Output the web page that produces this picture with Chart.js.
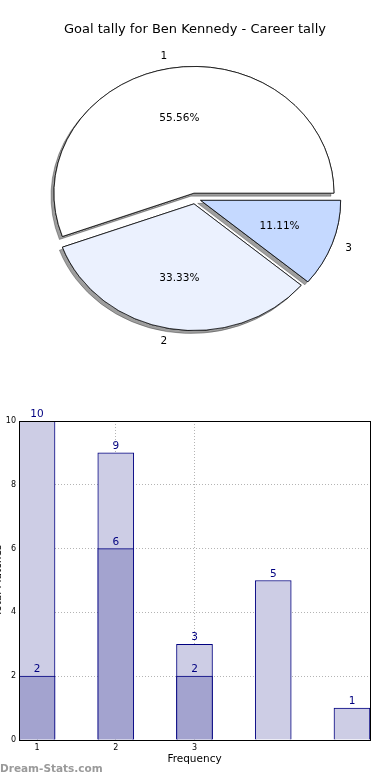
<!DOCTYPE html>
<html>
<head>
<meta charset="utf-8">
<script src="https://cdn.jsdelivr.net/npm/chart.js@4.4.0/dist/chart.umd.min.js"></script>
<style>
  html, body { margin: 0; padding: 0; background: #fff; width: 390px; height: 780px; overflow: hidden; }
  #pie { position: absolute; left: 0; top: 0; }
  #bar { position: absolute; left: 0; top: 400px; }
  #mark { position: absolute; left: 0; top: 762px; font: bold 10.5px "DejaVu Sans"; color: #9a9a9a; }
</style>
</head>
<body>
<canvas id="pie" width="390" height="360"></canvas>
<canvas id="bar" width="390" height="380"></canvas>
<div id="mark">Dream-Stats.com</div>
<script>
/* Goal tally for Ben Kennedy — pie of career tally + frequency bars */

// pie data
const pieLabels = ['1', '2', '3'];
const pieValues = [5, 3, 1];
const pieColors = ['#ffffff', '#ebf1fe', '#c5d9ff'];

// bar data
const barCats = [1, 2, 3, 4, 5];
const barTotals = [10, 9, 3, 5, 1];
const barSubs = [2, 6, 2, null, null];
const xTickLabels = ['1', '2', '3'];
const yTickValues = [0, 2, 4, 6, 8, 10];

const FONT = 'DejaVu Sans';
const NAVY = '#000080';
const SY = 0.905;      // pie is drawn a bit squashed, like the original
const EXPLODE = 6;
const R = 140;

// ── Pie: explode every wedge, squash, shadow, labels ─────────
const pieShape = {
  id: 'pieShape',
  afterUpdate(chart) {
    const meta = chart.getDatasetMeta(0);
    const c = { x: meta.data[0].x, y: meta.data[0].y };
    chart.$pieCenter = c;
    meta.data.forEach((el) => {
      const mid = (el.startAngle + el.endAngle) / 2;
      el.x = c.x + Math.cos(mid) * EXPLODE;
      el.y = c.y + Math.sin(mid) * EXPLODE;
    });
  },
  beforeDatasetsDraw(chart) {
    const ctx = chart.ctx, c = chart.$pieCenter;
    ctx.save();
    ctx.translate(c.x, c.y); ctx.scale(1, SY); ctx.translate(-c.x, -c.y);
    // shadow pass first, the normal pass then covers the inner half of it
    ctx.save();
    ctx.shadowColor = 'rgba(0,0,0,0.38)';
    ctx.shadowOffsetX = -3;
    ctx.shadowOffsetY = 3;
    ctx.shadowBlur = 0;
    chart.getDatasetMeta(0).data.forEach((el) => el.draw(ctx));
    ctx.restore();
  },
  afterDatasetsDraw(chart) { chart.ctx.restore(); },
  afterDraw(chart) {
    const ctx = chart.ctx, c = chart.$pieCenter;
    const ds = chart.data.datasets[0];
    const total = ds.data.reduce((a, b) => a + b, 0);
    ctx.save();
    ctx.fillStyle = '#000';
    ctx.font = '10.5px "' + FONT + '"';
    ctx.textBaseline = 'middle';
    chart.getDatasetMeta(0).data.forEach((el, i) => {
      const mid = (el.startAngle + el.endAngle) / 2;
      const cs = Math.cos(mid), sn = Math.sin(mid);
      const r = el.outerRadius;
      const lx = c.x + cs * (EXPLODE + r * 1.1);
      const ly = c.y + sn * (EXPLODE + r * 1.1) * SY;
      ctx.textAlign = cs > 0 ? 'left' : 'right';
      ctx.fillText(chart.data.labels[i], lx, ly);
      const px = c.x + cs * (EXPLODE + r * 0.6);
      const py = c.y + sn * (EXPLODE + r * 0.6) * SY;
      ctx.textAlign = 'center';
      ctx.fillText((ds.data[i] / total * 100).toFixed(2) + '%', px, py);
    });
    ctx.restore();
  }
};

// chart.js goes clockwise from the top; rotate to east and reverse to mimic ccw order
new Chart(document.getElementById('pie').getContext('2d'), {
  type: 'pie',
  data: {
    labels: pieLabels.slice().reverse(),
    datasets: [{
      data: pieValues.slice().reverse(),
      backgroundColor: pieColors.slice().reverse(),
      borderColor: '#000',
      borderWidth: 0.8,
      radius: R,
      clip: false,
    }],
  },
  options: {
    responsive: false, animation: false, events: [],
    rotation: 90,
    layout: { padding: { top: 0, bottom: 10.6, left: 0, right: 0 } },
    plugins: {
      legend: { display: false },
      tooltip: { enabled: false },
      title: {
        display: true,
        text: 'Goal tally for Ben Kennedy - Career tally',
        color: '#000',
        font: { family: FONT, size: 13, weight: 'normal' },
        padding: { top: 22, bottom: 10 },
      },
    },
  },
  plugins: [pieShape],
});

// ── Bars: value labels + closed frame ─────────────────────────
const barExtras = {
  id: 'barExtras',
  afterDraw(chart) {
    const ctx = chart.ctx;
    const a = chart.chartArea;
    ctx.save();
    ctx.strokeStyle = '#000';
    ctx.lineWidth = 1;
    ctx.strokeRect(Math.round(a.left) + 0.5, Math.round(a.top) + 0.5,
      Math.round(a.right - a.left), Math.round(a.bottom - a.top));
    ctx.font = '10.5px "' + FONT + '"';
    ctx.fillStyle = NAVY;
    ctx.textAlign = 'center';
    ctx.textBaseline = 'alphabetic';
    chart.data.datasets.forEach((ds, di) => {
      chart.getDatasetMeta(di).data.forEach((el, i) => {
        const v = ds.data[i].y;
        if (v == null) return;
        ctx.fillText(String(v), el.x, el.y - 4);
      });
    });
    ctx.restore();
  }
};

const gridStyle = { color: '#b4b4b4', lineWidth: 1, drawTicks: false, offset: false };

new Chart(document.getElementById('bar').getContext('2d'), {
  type: 'bar',
  data: {
    datasets: [
      {
        label: 'sub',
        data: barCats.map((c, i) => ({ x: c, y: barSubs[i] })),
        backgroundColor: '#a3a3cf', borderColor: NAVY, borderWidth: 1,
        grouped: false, barThickness: 36, order: 0,
      },
      {
        label: 'total',
        data: barCats.map((c, i) => ({ x: c, y: barTotals[i] })),
        backgroundColor: '#cdcde5', borderColor: NAVY, borderWidth: 1,
        grouped: false, barThickness: 36, order: 1,
      },
    ],
  },
  options: {
    responsive: false, animation: false, events: [],
    layout: { padding: { top: 21, right: 20, bottom: 10, left: 0 } },
    plugins: { legend: { display: false }, tooltip: { enabled: false } },
    scales: {
      x: {
        type: 'linear', min: 0.771, max: 5.229, offset: false, z: 1,
        afterBuildTicks: (s) => { s.ticks = xTickLabels.map((v) => ({ value: Number(v) })); },
        afterFit: (s) => { s.height = 30; },
        ticks: { font: { family: FONT, size: 8 }, color: '#000', padding: 3, maxRotation: 0, autoSkip: false,
          callback: (v) => String(v) },
        grid: gridStyle,
        border: { display: false, dash: [1, 2] },
        title: { display: true, text: 'Frequency', color: '#000', font: { family: FONT, size: 10.5 }, padding: { top: 0, bottom: 4 } },
      },
      y: {
        min: 0, max: 10, z: 1,
        afterBuildTicks: (s) => { s.ticks = yTickValues.map((v) => ({ value: v })); },
        afterFit: (s) => { s.width = 19; },
        ticks: { font: { family: FONT, size: 8 }, color: '#000', padding: 3 },
        grid: gridStyle,
        border: { display: false, dash: [1, 2] },
        title: { display: true, text: 'Total Matches', color: '#000', font: { family: FONT, size: 10.5 }, padding: { top: -8, bottom: 0 } },
      },
    },
  },
  plugins: [barExtras],
});
</script>
</body>
</html>
